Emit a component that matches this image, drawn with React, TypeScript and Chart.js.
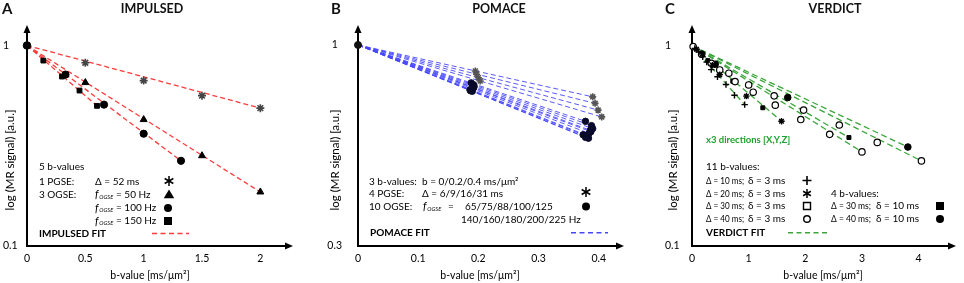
import React, { useEffect, useRef } from "react";
import { Chart, registerables } from "chart.js";
Chart.register(...registerables);

const FONT = "Lato, 'Open Sans', 'DejaVu Sans', sans-serif";
const INK = "#000";
const X_TITLE = "b-value [ms/\u03BCm\u00B2]";
const Y_TITLE = "log (MR signal) [a.u.]";

// ---------------- Panel A : IMPULSED ----------------
const A_X_TICKS = [0, 0.5, 1, 1.5, 2];
const A_Y_TICKS = [0.1, 1];
const A_ORIGIN_B = [0];
const A_ORIGIN_S = [1];
const A_PGSE_B = [0.5, 1, 1.5, 2];
const A_PGSE_S = [0.82, 0.668, 0.562, 0.487];
const A_F50_B = [0.5, 1, 1.5, 2];
const A_F50_S = [0.653, 0.427, 0.282, 0.186];
const A_F100_B = [0.33, 0.66, 1.0, 1.32];
const A_F100_S = [0.716, 0.507, 0.363, 0.266];
const A_F150_B = [0.14, 0.3, 0.45, 0.6];
const A_F150_S = [0.841, 0.7, 0.596, 0.5];
const A_FIT_START = [0, 1];
const A_FIT_END_B = [2, 2, 1.32, 0.6];
const A_FIT_END_S = [0.487, 0.186, 0.266, 0.5];

// ---------------- Panel B : POMACE ----------------
const B_X_TICKS = [0, 0.1, 0.2, 0.3, 0.4];
const B_Y_TICKS = [0.3, 1];
const B_ORIGIN_B = [0];
const B_ORIGIN_S = [1];
const B_PGSE_B = [0.195, 0.197, 0.2, 0.203, 0.39, 0.394, 0.399, 0.405];
const B_PGSE_S = [0.856, 0.839, 0.822, 0.806, 0.733, 0.705, 0.677, 0.65];
const B_OGSE_B = [0.188, 0.192, 0.193, 0.192, 0.19, 0.189, 0.186, 0.187, 0.19, 0.191,
  0.378, 0.388, 0.39, 0.387, 0.384, 0.38, 0.374, 0.378, 0.383, 0.386];
const B_OGSE_S = [0.797, 0.788, 0.78, 0.773, 0.769, 0.764, 0.765, 0.76, 0.758, 0.777,
  0.633, 0.617, 0.606, 0.595, 0.589, 0.582, 0.584, 0.575, 0.572, 0.6];
const B_FIT_START = [0, 1];
const B_FIT_END_B = [0.39, 0.394, 0.399, 0.405, 0.378, 0.388, 0.39, 0.387, 0.384, 0.38, 0.374, 0.378, 0.383, 0.386];
const B_FIT_END_S = [0.733, 0.705, 0.677, 0.65, 0.633, 0.617, 0.606, 0.595, 0.589, 0.582, 0.584, 0.575, 0.572, 0.6];

// ---------------- Panel C : VERDICT ----------------
const C_X_TICKS = [0, 1, 2, 3, 4];
const C_Y_TICKS = [0.1, 1];
const C_D10_B = [0.05, 0.12, 0.19, 0.26, 0.34, 0.45, 0.6, 0.75, 0.93];
const C_D10_S = [0.97, 0.93, 0.88, 0.83, 0.76, 0.7, 0.64, 0.566, 0.508];
const C_D20_B = [0.08, 0.18, 0.36, 0.49, 0.96, 1.58];
const C_D20_S = [0.96, 0.91, 0.8, 0.717, 0.56, 0.42];
const C_D30_B = [0.49, 0.76, 1.08, 1.47, 1.92, 2.43, 3.0];
const C_D30_S = [0.757, 0.662, 0.586, 0.505, 0.428, 0.361, 0.295];
const C_D40_B = [0.02, 0.17, 0.34, 0.65, 1.0, 1.45, 1.97, 2.6, 3.27, 4.05];
const C_D40_S = [0.99, 0.906, 0.817, 0.729, 0.637, 0.562, 0.477, 0.402, 0.329, 0.266];
const C_D30L_B = [0.28, 0.72, 1.25, 2.77];
const C_D30L_S = [0.842, 0.665, 0.49, 0.348];
const C_D40L_B = [0.41, 1.69, 3.81];
const C_D40L_S = [0.808, 0.551, 0.312];
const C_FIT_START = [0, 1];
const C_FIT_END_B = [0.93, 1.58, 3.0, 4.05, 2.77, 3.81];
const C_FIT_END_S = [0.508, 0.42, 0.295, 0.266, 0.348, 0.312];

// ---------------- helpers ----------------
const pts = (b: number[], s: number[]) => b.map((x, i) => ({ x, y: s[i] }));

function markers(b: number[], s: number[], style: any, r: number, fill: string, stroke: string, bw = 1) {
  return {
    data: pts(b, s),
    showLine: false,
    pointStyle: style,
    pointRadius: r,
    pointBackgroundColor: fill,
    pointBorderColor: stroke,
    pointBorderWidth: bw,
    clip: false as any,
    order: 1,
  };
}

function fits(start: number[], endB: number[], endS: number[], color: string, dash: number[], width: number) {
  return endB.map((b, i) => ({
    data: [{ x: start[0], y: start[1] }, { x: b, y: endS[i] }],
    showLine: true,
    borderColor: color,
    borderWidth: width,
    borderDash: dash,
    pointRadius: 0,
    clip: false as any,
    order: 2,
  }));
}

function txt(ctx: CanvasRenderingContext2D, s: string, x: number, y: number, font: string, color = INK, align: CanvasTextAlign = "left", maxW?: number) {
  ctx.font = font;
  ctx.fillStyle = color;
  ctx.textAlign = align;
  ctx.textBaseline = "middle";
  if (maxW) ctx.fillText(s, x, y, maxW);
  else ctx.fillText(s, x, y);
}

function fOgse(ctx: CanvasRenderingContext2D, x: number, y: number) {
  ctx.fillStyle = INK;
  ctx.textAlign = "left";
  ctx.textBaseline = "middle";
  ctx.font = `italic 11px ${FONT}`;
  ctx.fillText("f", x, y);
  const w = ctx.measureText("f").width;
  ctx.font = `italic 5.6px ${FONT}`;
  ctx.fillText("OGSE", x + w + 0.8, y + 2.5);
}

function mark(ctx: CanvasRenderingContext2D, kind: string, x: number, y: number, r: number) {
  ctx.save();
  ctx.fillStyle = "#000";
  ctx.strokeStyle = "#000";
  ctx.lineWidth = 1.4;
  ctx.beginPath();
  if (kind === "circle") { ctx.arc(x, y, r, 0, Math.PI * 2); ctx.fill(); }
  else if (kind === "ocircle") { ctx.arc(x, y, r, 0, Math.PI * 2); ctx.fillStyle = "#fff"; ctx.fill(); ctx.stroke(); }
  else if (kind === "square") { ctx.rect(x - r, y - r, 2 * r, 2 * r); ctx.fill(); }
  else if (kind === "osquare") { ctx.rect(x - r, y - r, 2 * r, 2 * r); ctx.stroke(); }
  else if (kind === "triangle") { ctx.moveTo(x, y - r); ctx.lineTo(x + r * 1.05, y + r * 0.75); ctx.lineTo(x - r * 1.05, y + r * 0.75); ctx.closePath(); ctx.fill(); }
  else if (kind === "plus") { ctx.lineWidth = 1.6; ctx.moveTo(x - r, y); ctx.lineTo(x + r, y); ctx.moveTo(x, y - r); ctx.lineTo(x, y + r); ctx.stroke(); }
  else if (kind === "star") {
    ctx.lineWidth = 1.5;
    for (const a of [90, 30, 150]) {
      const t = (a * Math.PI) / 180;
      ctx.moveTo(x - r * Math.cos(t), y - r * Math.sin(t));
      ctx.lineTo(x + r * Math.cos(t), y + r * Math.sin(t));
    }
    ctx.stroke();
  }
  ctx.restore();
}

function dash(ctx: CanvasRenderingContext2D, x1: number, x2: number, y: number, color: string) {
  ctx.save();
  ctx.strokeStyle = color;
  ctx.lineWidth = 1.5;
  ctx.setLineDash([5, 3.5]);
  ctx.beginPath();
  ctx.moveTo(x1, y);
  ctx.lineTo(x2, y);
  ctx.stroke();
  ctx.restore();
}

const REG = `10px ${FONT}`;
const BOLD = `bold 10px ${FONT}`;

function decoPlugin(cfg: { letter: string; letterX: number; title: string; titleX: number; yTitleX: number; xTitleX: number; legend: (ctx: CanvasRenderingContext2D) => void }) {
  return {
    id: "deco",
    beforeDatasetsDraw(chart: any) {
      const { ctx, chartArea: ca } = chart;
      ctx.save();
      ctx.strokeStyle = "#000";
      ctx.lineWidth = 2;
      ctx.beginPath();
      ctx.moveTo(ca.left, ca.bottom + 1);
      ctx.lineTo(ca.left, ca.top + 6);
      ctx.moveTo(ca.left - 1, ca.bottom);
      ctx.lineTo(ca.right - 6, ca.bottom);
      ctx.stroke();
      ctx.fillStyle = "#000";
      ctx.beginPath();
      ctx.moveTo(ca.left, ca.top);
      ctx.lineTo(ca.left - 3.5, ca.top + 8);
      ctx.lineTo(ca.left + 3.5, ca.top + 8);
      ctx.closePath();
      ctx.fill();
      ctx.beginPath();
      ctx.moveTo(ca.right, ca.bottom);
      ctx.lineTo(ca.right - 8, ca.bottom - 3.5);
      ctx.lineTo(ca.right - 8, ca.bottom + 3.5);
      ctx.closePath();
      ctx.fill();
      ctx.restore();
    },
    afterDraw(chart: any) {
      const { ctx } = chart;
      ctx.save();
      txt(ctx, cfg.letter, cfg.letterX, 9, `bold 15px ${FONT}`, "#111");
      txt(ctx, cfg.title, cfg.titleX, 9, `bold 12.5px ${FONT}`, "#111", "center");
      txt(ctx, X_TITLE, cfg.xTitleX, 276, `10.5px ${FONT}`, INK, "center");
      ctx.save();
      ctx.translate(cfg.yTitleX, 160);
      ctx.rotate(-Math.PI / 2);
      txt(ctx, Y_TITLE, 0, 0, `11.5px ${FONT}`, INK, "center");
      ctx.restore();
      cfg.legend(ctx);
      ctx.restore();
    },
  };
}

function buildConfig(p: any) {
  const tickFont = { family: FONT, size: 10.5 };
  return {
    type: "scatter",
    data: { datasets: p.datasets },
    options: {
      responsive: false,
      animation: false,
      events: [],
      layout: { padding: p.padding },
      plugins: { legend: { display: false }, tooltip: { enabled: false } },
      scales: {
        x: {
          type: "linear",
          min: p.xMin,
          max: p.xMax,
          grid: { display: false, drawTicks: false },
          border: { display: false },
          ticks: { font: tickFont, color: INK, padding: 6, autoSkip: false, maxRotation: 0, callback: (v: any) => String(v) },
          title: { display: false },
          afterBuildTicks: (s: any) => { s.ticks = p.xTicks.map((v: number) => ({ value: v })); },
          afterFit: (s: any) => { s.height = 37; },
        },
        y: {
          type: "logarithmic",
          min: p.yMin,
          max: p.yMax,
          grid: { display: false, drawTicks: false },
          border: { display: false },
          ticks: { font: tickFont, color: INK, padding: p.yPad, crossAlign: p.yAlign, autoSkip: false, callback: (v: any) => String(v) },
          afterBuildTicks: (s: any) => { s.ticks = p.yTicks.map((v: number) => ({ value: v })); },
          afterFit: (s: any) => { s.width = p.yWidth; },
        },
      },
    },
    plugins: [p.plugin],
  };
}

const RED = "#ff3a3a";
const BLUE = "#4646ff";
const GREEN = "#3aa53a";

function configA() {
  const datasets = [
    markers(A_ORIGIN_B, A_ORIGIN_S, "circle", 3.8, "#000", "#000"),
    markers(A_PGSE_B, A_PGSE_S, "star", 4, "#555", "#444", 1.6),
    markers(A_F50_B, A_F50_S, "triangle", 4, "#000", "#000"),
    markers(A_F100_B, A_F100_S, "circle", 3.6, "#000", "#000"),
    markers(A_F150_B, A_F150_S, "rect", 3.4, "#000", "#000"),
    ...fits(A_FIT_START, A_FIT_END_B, A_FIT_END_S, RED, [5, 3], 1.3),
  ];
  const plugin = decoPlugin({
    letter: "A", letterX: 2, title: "IMPULSED", titleX: 152, yTitleX: 10, xTitleX: 150,
    legend: (ctx) => {
      txt(ctx, "5 b-values", 39, 167, REG);
      txt(ctx, "1 PGSE:", 39, 181.5, REG);
      txt(ctx, "\u0394 = 52 ms", 95, 181.5, REG);
      mark(ctx, "star", 169, 181, 5);
      txt(ctx, "3 OGSE:", 39, 194.5, REG);
      fOgse(ctx, 95, 194.5); txt(ctx, "= 50 Hz", 116, 194.5, REG);
      mark(ctx, "triangle", 169, 194.5, 5);
      fOgse(ctx, 95, 208); txt(ctx, "= 100 Hz", 116, 208, REG);
      mark(ctx, "circle", 168, 208, 4);
      fOgse(ctx, 95, 221); txt(ctx, "= 150 Hz", 116, 221, REG);
      mark(ctx, "square", 168, 221, 4);
      txt(ctx, "IMPULSED FIT", 39, 233.5, BOLD);
      dash(ctx, 152, 189, 233.5, RED);
    },
  });
  return buildConfig({
    datasets, plugin, padding: { left: 3, right: 27, top: 25, bottom: 0 },
    xMin: 0, xMax: 2.28, xTicks: A_X_TICKS, yMin: 0.1, yMax: 1.265, yTicks: A_Y_TICKS,
    yWidth: 24, yAlign: "far", yPad: 4,
  });
}

function configB() {
  const datasets = [
    markers(B_ORIGIN_B, B_ORIGIN_S, "circle", 3.5, "#111", "#111"),
    markers(B_PGSE_B, B_PGSE_S, "star", 3.5, "#666", "#555", 1.6),
    markers(B_OGSE_B, B_OGSE_S, "circle", 3.2, "#0a0a2a", "#0a0a2a"),
    ...fits(B_FIT_START, B_FIT_END_B, B_FIT_END_S, BLUE, [5, 3], 0.9),
  ];
  const plugin = decoPlugin({
    letter: "B", letterX: 11, title: "POMACE", titleX: 179, yTitleX: 15.5, xTitleX: 160,
    legend: (ctx) => {
      txt(ctx, "3 b-values:", 49, 181.5, REG);
      txt(ctx, "b = 0/0.2/0.4 ms/\u03BCm\u00B2", 102, 181.5, REG);
      txt(ctx, "4 PGSE:", 49, 193.5, REG);
      txt(ctx, "\u0394 = 6/9/16/31 ms", 102, 193.5, REG);
      mark(ctx, "star", 266, 192, 5);
      txt(ctx, "10 OGSE:", 49, 206.5, REG);
      fOgse(ctx, 103, 206.5);
      txt(ctx, "=", 128, 206.5, REG);
      txt(ctx, "65/75/88/100/125", 145, 206.5, REG);
      mark(ctx, "circle", 266, 206.5, 4);
      txt(ctx, "140/160/180/200/225 Hz", 141, 220, REG);
      txt(ctx, "POMACE FIT", 50, 232.7, BOLD);
      dash(ctx, 251, 288, 232.7, BLUE);
    },
  });
  return buildConfig({
    datasets, plugin, padding: { left: 0, right: 16, top: 25, bottom: 0 },
    xMin: 0, xMax: 0.442, xTicks: B_X_TICKS, yMin: 0.3, yMax: 1.127, yTicks: B_Y_TICKS,
    yWidth: 38, yAlign: "center", yPad: 16,
  });
}

function configC() {
  const datasets = [
    markers(C_D10_B, C_D10_S, "cross", 3.2, "#000", "#000", 1.4),
    markers(C_D20_B, C_D20_S, "star", 3.2, "#000", "#000", 1.4),
    markers(C_D30_B, C_D30_S, "circle", 3.2, "#fff", "#000", 1.2),
    markers(C_D40_B, C_D40_S, "circle", 3.2, "#fff", "#000", 1.2),
    markers(C_D30L_B, C_D30L_S, "rect", 2.8, "#000", "#000"),
    markers(C_D40L_B, C_D40L_S, "circle", 3.3, "#000", "#000"),
    ...fits(C_FIT_START, C_FIT_END_B, C_FIT_END_S, GREEN, [6, 3.5], 1.3),
  ];
  const plugin = decoPlugin({
    letter: "C", letterX: 25, title: "VERDICT", titleX: 195, yTitleX: 33, xTitleX: 183,
    legend: (ctx) => {
      txt(ctx, "x3 directions [X,Y,Z]", 66, 139.5, `bold 9.5px ${FONT}`, "#1fa02a");
      txt(ctx, "11 b-values:", 66, 167, REG);
      const rows = [
        ["\u0394 = 10 ms;", "plus", 180.5],
        ["\u0394 = 20 ms;", "star", 193.5],
        ["\u0394 = 30 ms;", "osquare", 206],
        ["\u0394 = 40 ms;", "ocircle", 219],
      ] as [string, string, number][];
      for (const [label, kind, y] of rows) {
        txt(ctx, label, 66, y, REG, INK, "left", 38);
        txt(ctx, "\u03B4 = 3 ms", 108, y, REG, INK, "left", 40);
        mark(ctx, kind, 167, y, kind === "ocircle" ? 3.3 : kind === "osquare" ? 3.5 : 4.5);
      }
      txt(ctx, "4 b-values:", 191, 193.5, REG);
      txt(ctx, "\u0394 = 30 ms;", 191, 206, REG, INK, "left", 40);
      txt(ctx, "\u03B4 = 10 ms", 236, 206, REG, INK, "left", 44);
      mark(ctx, "square", 300, 206, 4);
      txt(ctx, "\u0394 = 40 ms;", 191, 219, REG, INK, "left", 40);
      txt(ctx, "\u03B4 = 10 ms", 236, 219, REG, INK, "left", 44);
      mark(ctx, "circle", 300, 219, 4);
      txt(ctx, "VERDICT FIT", 66, 232.7, BOLD);
      dash(ctx, 148, 187, 232.7, GREEN);
    },
  });
  return buildConfig({
    datasets, plugin, padding: { left: 25, right: 8, top: 25, bottom: 0 },
    xMin: 0, xMax: 4.66, xTicks: C_X_TICKS, yMin: 0.1, yMax: 1.269, yTicks: C_Y_TICKS,
    yWidth: 27, yAlign: "far", yPad: 4,
  });
}

function Panel({ left, width, build }: { left: number; width: number; build: () => any }) {
  const ref = useRef<HTMLCanvasElement>(null);
  useEffect(() => {
    const chart = new Chart(ref.current as HTMLCanvasElement, build());
    return () => chart.destroy();
  }, []);
  return (
    <canvas
      ref={ref}
      width={width}
      height={283}
      style={{ position: "absolute", left, top: 0, width, height: 283 }}
    />
  );
}

export default function App() {
  return (
    <div style={{ position: "fixed", left: 0, top: 0, width: 964, height: 283, background: "#fff", overflow: "hidden" }}>
      <Panel left={0} width={320} build={configA} />
      <Panel left={320} width={320} build={configB} />
      <Panel left={640} width={324} build={configC} />
    </div>
  );
}
